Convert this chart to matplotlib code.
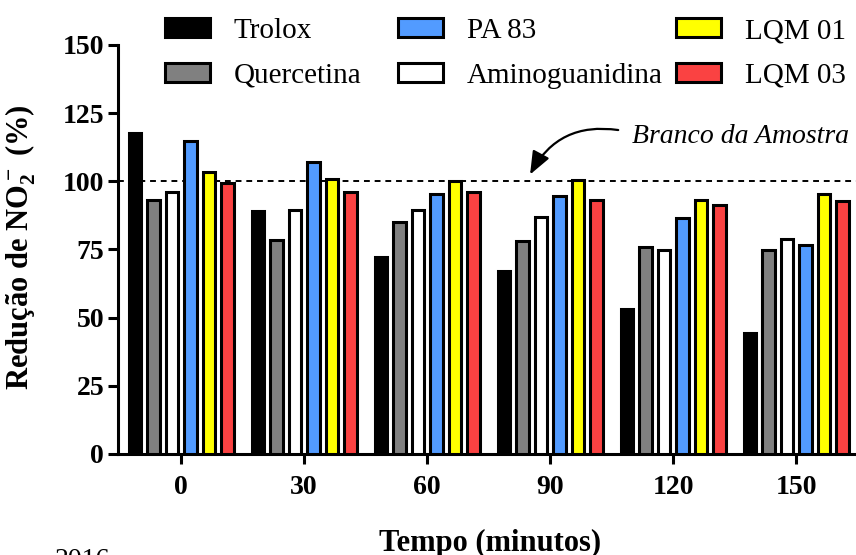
import matplotlib
matplotlib.use('Agg')
import numpy as np
import matplotlib.pyplot as plt

plt.rcParams['font.family'] = ['Liberation Serif', 'DejaVu Serif']
plt.rcParams['mathtext.fontset'] = 'custom'
plt.rcParams['mathtext.rm'] = 'Liberation Serif'
plt.rcParams['mathtext.bf'] = 'Liberation Serif:bold'
plt.rcParams['mathtext.default'] = 'bf'

#-------------------------------------------------------------------------------

times = [0, 30, 60, 90, 120, 150]

trolox = [117.7, 89.2, 72.4, 67.1, 53.2, 44.4]
quercetina = [93.1, 78.5, 84.9, 78.1, 75.8, 74.7]
aminoguanidina = [96.0, 89.6, 89.5, 87.0, 74.7, 78.8]
pa83 = [114.8, 107.0, 95.3, 94.6, 86.5, 76.5]
lqm01 = [103.4, 100.8, 100.1, 100.4, 93.1, 95.5]
lqm03 = [99.4, 96.2, 96.0, 93.0, 91.2, 92.7]

series = [('Trolox', trolox, 'black'),
          ('Quercetina', quercetina, '#808080'),
          ('Aminoguanidina', aminoguanidina, 'white'),
          ('PA 83', pa83, '#529BFF'),
          ('LQM 01', lqm01, '#FFFF00'),
          ('LQM 03', lqm03, '#FA4242')]

#-------------------------------------------------------------------------------

fig = plt.figure(figsize=(8.56, 5.55), dpi=100)
ax = fig.add_axes([0.1379, 0.182, 0.8621, 0.737])

pitch = 4.51
width = 3.05
x = np.array(times, dtype=float)
handles = {}
for i, (name, vals, color) in enumerate(series):
    b = ax.bar(x + (i - 2.5) * pitch, vals, width, color=color,
               edgecolor='black', linewidth=2.2, zorder=3, label=name)
    handles[name] = b

ax.axhline(100, color='black', lw=1.4, ls=(0, (3, 2.5)), zorder=1)

ax.set_xlim(-15.4, 164.6)
ax.set_ylim(0, 150)
ax.set_yticks([0, 25, 50, 75, 100, 125, 150])
ax.set_xticks(times)

for s in ['top', 'right']:
    ax.spines[s].set_visible(False)
for s in ['left', 'bottom']:
    ax.spines[s].set_linewidth(2.2)

ax.tick_params(axis='both', width=2.2, length=7, labelsize=20)
ax.tick_params(axis='x', pad=8)
ax.tick_params(axis='y', pad=3)
for lbl in ax.get_xticklabels() + ax.get_yticklabels():
    lbl.set_fontweight('bold')

ax.set_ylabel('Redução de NO$_2^-$ (%)', fontsize=22, fontweight='bold')
ax.yaxis.set_label_coords(-0.108, 0.505)

fig.text(490, 555 - 543, 'Tempo (minutos)', fontsize=22, fontweight='bold',
         ha='center', va='center', transform=None)
fig.text(55, -12, '2016', fontsize=20, ha='left', va='baseline', transform=None)

# reference line label
ax.text(110.0, 114.0, 'Branco da Amostra', fontsize=20, style='italic',
        ha='left', va='baseline')
ax.annotate('', xy=(85.1, 102.5), xytext=(106.6, 118.8),
            arrowprops=dict(arrowstyle='-|>,head_length=0.5,head_width=0.2',
                            connectionstyle='arc3,rad=0.35',
                            color='black', lw=1.6, mutation_scale=28,
                            shrinkA=0, shrinkB=0))

# legend: three columns placed by hand
columns = [['Trolox', 'Quercetina'], ['PA 83', 'Aminoguanidina'], ['LQM 01', 'LQM 03']]
col_left = [165, 398, 676]
for names, left in zip(columns, col_left):
    fig.legend([handles[n] for n in names], names, loc='center left',
               bbox_to_anchor=(left / 856, 1 - 53.5 / 555), frameon=False,
               fontsize=21, handlelength=1.55, handleheight=0.6,
               handletextpad=0.8, labelspacing=0.65, borderpad=0,
               borderaxespad=0)

fig.savefig('out.png', dpi=100)
